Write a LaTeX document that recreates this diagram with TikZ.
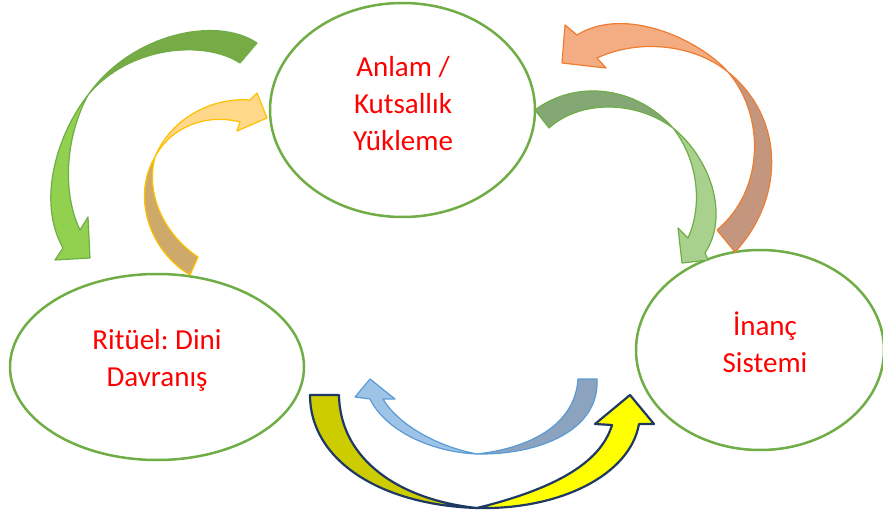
\documentclass[tikz,border=0pt]{standalone}
\usepackage{fontspec}
\setmainfont{Carlito}
\frenchspacing
\usetikzlibrary{shapes.geometric}
\definecolor{halka}{HTML}{70AD47}
\definecolor{yazi}{HTML}{FF0000}
\definecolor{koyuyesil}{HTML}{76AB46}
\definecolor{acikyesil}{HTML}{92D050}
\definecolor{tenkuyruk}{HTML}{CDAA6A}
\definecolor{tenbas}{HTML}{FFD88A}
\definecolor{sarikenar}{HTML}{FFC000}
\definecolor{kiremit}{HTML}{C4967E}
\definecolor{somon}{HTML}{F4AC82}
\definecolor{turuncu}{HTML}{ED7D31}
\definecolor{zeytin}{HTML}{84A874}
\definecolor{cayir}{HTML}{A9D18E}
\definecolor{gribulut}{HTML}{8BA3BE}
\definecolor{gok}{HTML}{9DC3E6}
\definecolor{mavikenar}{HTML}{5B9BD5}
\definecolor{hardal}{HTML}{CCCC00}
\definecolor{limon}{HTML}{FFFF00}
\definecolor{lacivert}{HTML}{1F3864}

\begin{document}
\begin{tikzpicture}[x=1pt,y=-1pt,
  oval/.style={ellipse, draw=halka, line width=2.5pt, inner sep=0pt},
  etiket/.style={text=yazi, align=center, font=\fontsize{29}{37}\selectfont},
  serit/.style={line width=1.2pt, line join=round}]

\useasboundingbox (0,0) rectangle (883,518) ;

\node[oval, minimum width=265, minimum height=214] (anlam) at (402.5,110) {} ;
\node[oval, minimum width=294, minimum height=186] (ritu) at (157,367) {} ;
\node[oval, minimum width=248, minimum height=200] (inanc) at (760,350) {} ;
\node[etiket] (anlamyazi) at (403,104) {Anlam /\\Kutsallık\\Yükleme} ;
\node[etiket] (rituyazi) at (157,360) {Ritüel: Dini\\Davranış} ;
\node[etiket] (inancyazi) at (765,342) {İnanç\\Sistemi} ;

\filldraw[serit, draw=halka, fill=koyuyesil] (257,43) .. controls (215,15) and (130,35) .. (88,95) .. controls (130,45) and (205,40) .. (240,63) -- cycle ;
\filldraw[serit, draw=halka, fill=acikyesil] (88,95) .. controls (58,133) and (36,200) .. (63,248) -- (55,260) -- (90,258) -- (88,217) -- (80,230) .. controls (63,195) and (64,140) .. (88,95) -- cycle ;

\filldraw[serit, draw=sarikenar, fill=tenkuyruk] (190,275) .. controls (148,250) and (132,195) .. (155,157) .. controls (145,195) and (165,235) .. (198,257) -- cycle ;
\filldraw[serit, draw=sarikenar, fill=tenbas] (155,157) .. controls (170,120) and (210,97) .. (250,100) -- (257,93) -- (267,118) -- (237,131) -- (240,122) .. controls (205,113) and (170,128) .. (155,157) -- cycle ;

\filldraw[serit, draw=turuncu, fill=kiremit] (735,252) .. controls (785,198) and (785,118) .. (728,72) .. controls (765,115) and (765,190) .. (717,230) -- cycle ;
\filldraw[serit, draw=turuncu, fill=somon] (728,72) .. controls (700,40) and (625,5) .. (577,35) -- (565,25) -- (562,63) -- (606,68) -- (597,58) .. controls (640,38) and (695,45) .. (728,72) -- cycle ;

\filldraw[serit, draw=halka, fill=zeytin] (535,110) .. controls (575,80) and (635,85) .. (673,128) .. controls (635,100) and (580,100) .. (549,128) -- cycle ;
\filldraw[serit, draw=halka, fill=cayir] (673,128) .. controls (710,158) and (730,215) .. (705,253) -- (708,260) -- (682,263) -- (678,228) -- (688,238) .. controls (703,205) and (698,160) .. (673,128) -- cycle ;

\filldraw[serit, draw=mavikenar, fill=gribulut] (597,379) .. controls (600,430) and (540,455) .. (477,454) .. controls (530,448) and (575,425) .. (578,379) -- cycle ;
\filldraw[serit, draw=mavikenar, fill=gok] (477,454) .. controls (430,452) and (385,430) .. (370,399) -- (355,397) -- (370,379) -- (395,399) -- (383,399) .. controls (395,420) and (430,445) .. (477,454) -- cycle ;

\filldraw[line width=2.2pt, line join=round, draw=lacivert, fill=hardal] (310,395) .. controls (310,460) and (380,505) .. (477,508) .. controls (400,500) and (340,460) .. (339,395) -- cycle ;
\filldraw[line width=2.2pt, line join=round, draw=lacivert, fill=limon] (477,508) .. controls (560,510) and (630,475) .. (639,424) -- (654,424) -- (630,395) -- (595,424) -- (612,425) .. controls (600,465) and (550,490) .. (477,508) -- cycle ;
\end{tikzpicture}
\end{document}
